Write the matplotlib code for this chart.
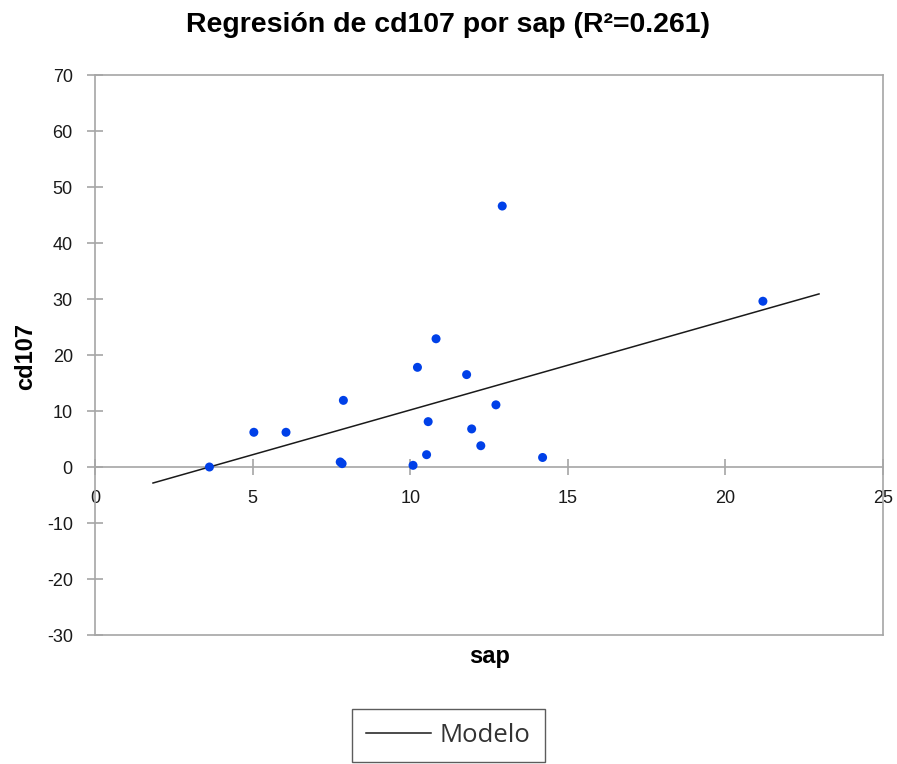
import matplotlib
matplotlib.use("Agg")
import matplotlib.pyplot as plt
from matplotlib.lines import Line2D
import numpy as np

plt.rcParams["axes.unicode_minus"] = False

# Observations
sap = [3.63, 5.04, 6.06, 7.88, 7.78, 7.84, 10.23, 10.82, 10.57, 10.52,
       10.09, 11.79, 12.72, 11.95, 12.24, 14.20, 12.92, 21.19]
cd107 = [0.0, 6.2, 6.2, 11.9, 0.9, 0.6, 17.8, 22.9, 8.1, 2.2,
         0.3, 16.5, 11.1, 6.8, 3.8, 1.7, 46.6, 29.6]

# Fitted model
intercept = -5.80
slope = 1.598
model_x = [1.84, 22.97]

x_ticks = [0, 5, 10, 15, 20, 25]
y_ticks = [-30, -20, -10, 0, 10, 20, 30, 40, 50, 60, 70]

axis_gray = "#a6a6a6"
sans = ["Liberation Sans", "DejaVu Sans"]

fig = plt.figure(figsize=(8.97, 7.64), dpi=100)
ax = fig.add_axes([95 / 897, 1 - 635 / 764, (883 - 95) / 897, (635 - 75) / 764])

ax.set_xlim(0, 25)
ax.set_ylim(-30, 70)

for side in ["top", "right", "bottom", "left"]:
    ax.spines[side].set_color(axis_gray)
    ax.spines[side].set_linewidth(1.2)
ax.spines["bottom"].set_position(("data", 0))
ax.spines["bottom"].set_zorder(1)

# frame along the bottom of the plot area
ax.axhline(-30, color=axis_gray, lw=1.2, clip_on=False)

mx = np.array(model_x)
ax.plot(mx, intercept + slope * mx, color="#1a1a1a", lw=1.1, zorder=3)
ax.scatter(sap, cd107, s=42, color="#0040e8", edgecolors="none", zorder=4)

ax.set_xticks(x_ticks)
ax.set_yticks(y_ticks)
ax.tick_params(axis="y", direction="inout", length=11, width=1.2, color=axis_gray,
               labelsize=13, pad=10.5)
ax.tick_params(axis="x", direction="inout", length=11, width=1.2, color=axis_gray,
               labelsize=13, pad=11)
for lab in ax.get_xticklabels() + ax.get_yticklabels():
    lab.set_family(sans)
    lab.set_color("#1a1a1a")

fig.text(448 / 897, 1 - 32 / 764, "Regresión de cd107 por sap (R²=0.261)",
         ha="center", va="baseline", fontsize=20.5, fontweight="bold", family=sans)
fig.text(26 / 897, 1 - 357 / 764, "cd107", rotation=90, ha="center", va="center",
         fontsize=17, fontweight="bold", family=sans)
fig.text(490 / 897, 1 - 656 / 764, "sap", ha="center", va="center",
         fontsize=17, fontweight="bold", family=sans)

handle = Line2D([], [], color="#1a1a1a", lw=1.1)
leg = fig.legend([handle], ["Modelo"], loc="center", bbox_to_anchor=(448.5 / 897, 1 - 735.5 / 764),
                 frameon=True, fancybox=False, edgecolor="#333333", handlelength=2.5,
                 borderpad=0.55, handletextpad=0.35, borderaxespad=0,
                 prop={"family": "Open Sans", "size": 18.5})
leg.get_frame().set_linewidth(1.0)
for t in leg.get_texts():
    t.set_color("#333333")

fig.savefig("out.png", dpi=100)
